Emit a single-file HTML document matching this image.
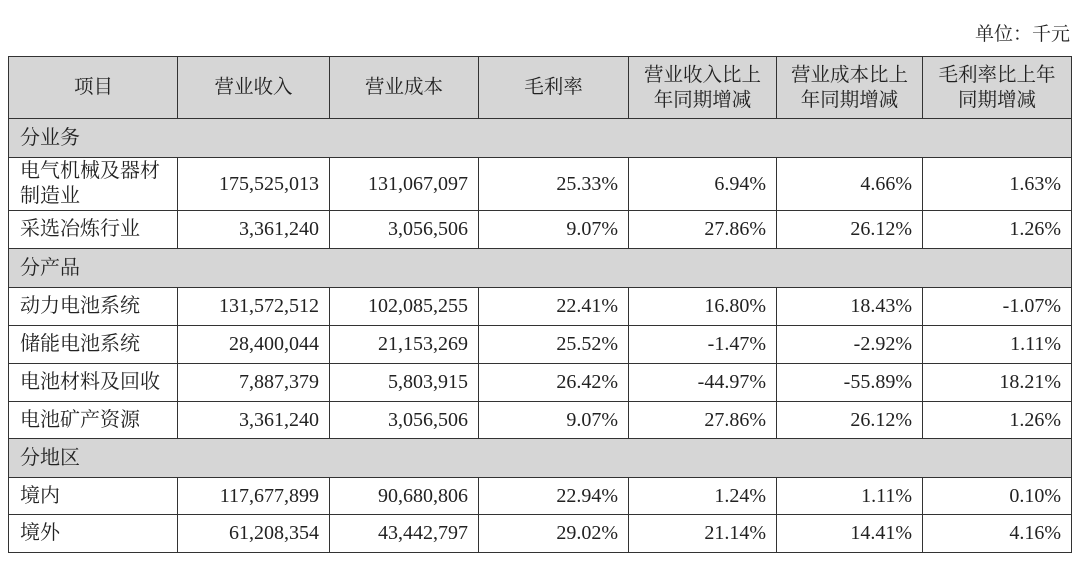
<!DOCTYPE html>
<html><head><meta charset="utf-8"><style>
body{margin:0;width:1080px;height:563px;background:#fff;overflow:hidden;font-family:"Liberation Serif","Noto Serif CJK SC",serif;color:#222}
.u{position:absolute;right:10px;top:19px;font-size:19px}
table{position:absolute;left:8px;top:56px;border-collapse:collapse;table-layout:fixed;font-size:20px}
td{border:1.5px solid #333;padding:0 10px 0 10px;text-align:right;line-height:25px;white-space:nowrap}
td:first-child{text-align:left;padding-left:11px}
tr.h td{background:#d6d6d6;text-align:center;font-size:19.5px;line-height:25px}
tr.s td{background:#d6d6d6;text-align:left}
</style></head><body>
<div class="u">单位：千元</div>
<table>
<colgroup><col style="width:169px"><col style="width:152px"><col style="width:149px"><col style="width:150px"><col style="width:148px"><col style="width:146px"><col style="width:149px"></colgroup>
<tr class="h" style="height:62px"><td style="text-align:center">项目</td><td>营业收入</td><td>营业成本</td><td>毛利率</td><td>营业收入比上<br>年同期增减</td><td>营业成本比上<br>年同期增减</td><td>毛利率比上年<br>同期增减</td></tr>
<tr class="s" style="height:39px"><td colspan="7">分业务</td></tr>
<tr style="height:53px"><td>电气机械及器材<br>制造业</td><td>175,525,013</td><td>131,067,097</td><td>25.33%</td><td>6.94%</td><td>4.66%</td><td>1.63%</td></tr>
<tr style="height:38px"><td>采选冶炼行业</td><td>3,361,240</td><td>3,056,506</td><td>9.07%</td><td>27.86%</td><td>26.12%</td><td>1.26%</td></tr>
<tr class="s" style="height:39px"><td colspan="7">分产品</td></tr>
<tr style="height:38px"><td>动力电池系统</td><td>131,572,512</td><td>102,085,255</td><td>22.41%</td><td>16.80%</td><td>18.43%</td><td>-1.07%</td></tr>
<tr style="height:38px"><td>储能电池系统</td><td>28,400,044</td><td>21,153,269</td><td>25.52%</td><td>-1.47%</td><td>-2.92%</td><td>1.11%</td></tr>
<tr style="height:38px"><td>电池材料及回收</td><td>7,887,379</td><td>5,803,915</td><td>26.42%</td><td>-44.97%</td><td>-55.89%</td><td>18.21%</td></tr>
<tr style="height:37px"><td>电池矿产资源</td><td>3,361,240</td><td>3,056,506</td><td>9.07%</td><td>27.86%</td><td>26.12%</td><td>1.26%</td></tr>
<tr class="s" style="height:39px"><td colspan="7">分地区</td></tr>
<tr style="height:37px"><td>境内</td><td>117,677,899</td><td>90,680,806</td><td>22.94%</td><td>1.24%</td><td>1.11%</td><td>0.10%</td></tr>
<tr style="height:38px"><td>境外</td><td>61,208,354</td><td>43,442,797</td><td>29.02%</td><td>21.14%</td><td>14.41%</td><td>4.16%</td></tr>
</table>
</body></html>
